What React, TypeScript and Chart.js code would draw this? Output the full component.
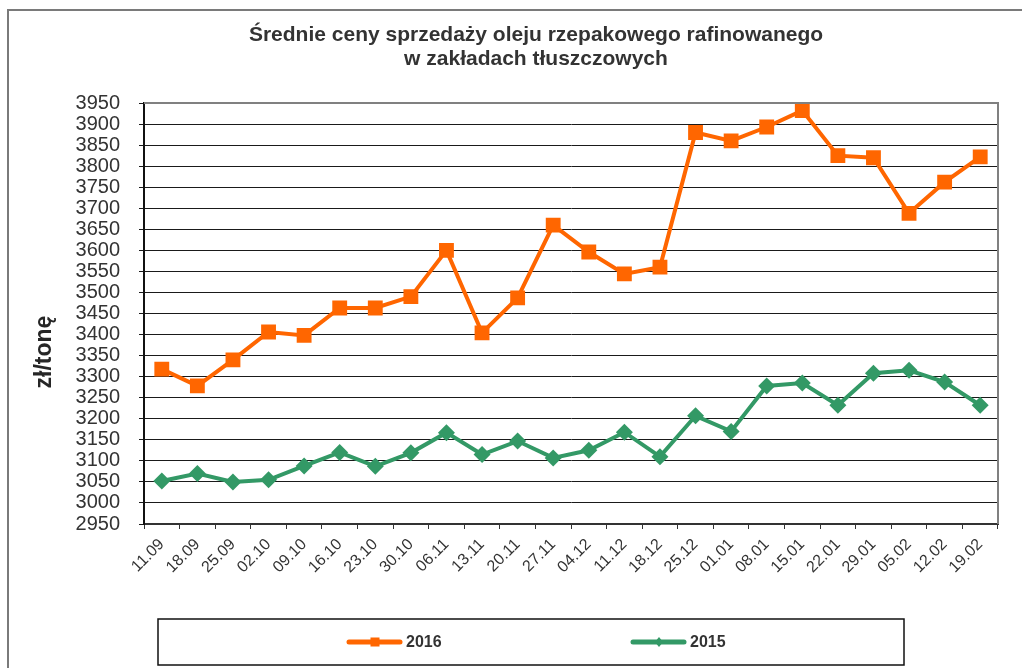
import React, { useEffect, useRef } from "react";
import { Chart, registerables } from "chart.js";

Chart.register(...registerables);

const categories = [
  "11.09", "18.09", "25.09", "02.10", "09.10", "16.10", "23.10", "30.10",
  "06.11", "13.11", "20.11", "27.11", "04.12", "11.12", "18.12", "25.12",
  "01.01", "08.01", "15.01", "22.01", "29.01", "05.02", "12.02", "19.02",
];

const series2016 = [
  3318, 3278, 3340, 3406, 3398, 3463, 3463, 3490, 3600, 3404, 3487, 3660,
  3596, 3544, 3560, 3880, 3860, 3893, 3932, 3825, 3820, 3688, 3762, 3822,
];

const series2015 = [
  3052, 3070, 3050, 3055, 3088, 3120, 3087, 3119, 3167, 3115, 3147, 3107,
  3125, 3168, 3110, 3207, 3170, 3278, 3285, 3232, 3308, 3315, 3287, 3232,
];

const yMin = 2950;
const yMax = 3950;
const yStep = 50;

const titleLines = [
  "Średnie ceny sprzedaży oleju rzepakowego rafinowanego",
  "w zakładach tłuszczowych",
];
const yAxisTitle = "zł/tonę";

const FONT = "'Liberation Sans', Arial, sans-serif";

const decorPlugin = {
  id: "decor",
  beforeDraw(chart: any) {
    const ctx = chart.ctx;
    ctx.save();
    ctx.fillStyle = "#ffffff";
    ctx.fillRect(0, 0, chart.width, chart.height);
    ctx.strokeStyle = "#7a7a7a";
    ctx.lineWidth = 2;
    ctx.beginPath();
    ctx.moveTo(8, chart.height);
    ctx.lineTo(8, 10);
    ctx.lineTo(chart.width, 10);
    ctx.stroke();
    ctx.restore();
  },
  afterDraw(chart: any) {
    const ctx = chart.ctx;
    const area = chart.chartArea;
    ctx.save();
    ctx.strokeStyle = "#808080";
    ctx.lineWidth = 2;
    ctx.beginPath();
    ctx.moveTo(area.left, area.top);
    ctx.lineTo(area.right, area.top);
    ctx.lineTo(area.right, area.bottom);
    ctx.stroke();

    // title
    ctx.fillStyle = "#333333";
    ctx.font = `bold 21px ${FONT}`;
    ctx.textAlign = "center";
    ctx.textBaseline = "middle";
    ctx.fillText(titleLines[0], 536, 35);
    ctx.fillText(titleLines[1], 536, 59);

    // y axis title
    ctx.save();
    ctx.translate(45, 352);
    ctx.rotate(-Math.PI / 2);
    ctx.font = `bold 23px ${FONT}`;
    ctx.fillStyle = "#262626";
    ctx.fillText(yAxisTitle, 0, 0);
    ctx.restore();

    // legend box
    ctx.strokeStyle = "#111111";
    ctx.lineWidth = 1.5;
    ctx.strokeRect(158, 619, 746, 46);

    const items = chart.data.datasets.map((d: any, i: number) => ({
      label: d.label,
      color: d.borderColor,
      style: d.pointStyle,
      x: i === 0 ? 347 : 631,
    }));
    const ly = 642;
    items.forEach((it: any) => {
      ctx.strokeStyle = it.color;
      ctx.lineWidth = 5;
      ctx.lineCap = "round";
      ctx.beginPath();
      ctx.moveTo(it.x + 2, ly);
      ctx.lineTo(it.x + 53, ly);
      ctx.stroke();
      ctx.fillStyle = it.color;
      const cx = it.x + 28;
      if (it.style === "rect") {
        ctx.fillRect(cx - 4.5, ly - 4.5, 9, 9);
      } else {
        ctx.beginPath();
        ctx.moveTo(cx, ly - 5);
        ctx.lineTo(cx + 4, ly);
        ctx.lineTo(cx, ly + 5);
        ctx.lineTo(cx - 4, ly);
        ctx.closePath();
        ctx.fill();
      }
      ctx.fillStyle = "#333333";
      ctx.font = `bold 16px ${FONT}`;
      ctx.textAlign = "left";
      ctx.textBaseline = "middle";
      ctx.fillText(it.label, it.x + 59, ly + 1);
    });
    ctx.restore();
  },
};

export default function App() {
  const canvasRef = useRef<HTMLCanvasElement | null>(null);

  useEffect(() => {
    if (!canvasRef.current) return;
    const chart = new Chart(canvasRef.current, {
      type: "line",
      data: {
        labels: categories,
        datasets: [
          {
            label: "2016",
            data: series2016,
            borderColor: "#FF6600",
            backgroundColor: "#FF6600",
            borderWidth: 4,
            pointStyle: "rect",
            pointRadius: 10.5,
            pointHoverRadius: 10.5,
            pointBorderWidth: 0,
            tension: 0,
          },
          {
            label: "2015",
            data: series2015,
            borderColor: "#339966",
            backgroundColor: "#339966",
            borderWidth: 4,
            pointStyle: "rectRot",
            pointRadius: 8.5,
            pointHoverRadius: 8.5,
            pointBorderWidth: 0,
            tension: 0,
          },
        ],
      },
      options: {
        animation: false,
        responsive: false,
        maintainAspectRatio: false,
        events: [],
        layout: { padding: { top: 103, right: 24, bottom: 0, left: 0 } },
        plugins: {
          legend: { display: false },
          title: { display: false },
          tooltip: { enabled: false },
        },
        scales: {
          x: {
            type: "category",
            offset: true,
            afterFit(scale: any) {
              scale.height = 144;
            },
            grid: {
              offset: true,
              drawOnChartArea: false,
              drawTicks: true,
              tickLength: 5,
              color: "#333333",
              lineWidth: 1,
            },
            border: { color: "#333333", width: 2 },
            ticks: {
              autoSkip: false,
              minRotation: 45,
              maxRotation: 45,
              padding: 6,
              color: "#333333",
              font: { family: FONT, size: 16 },
            },
          },
          y: {
            min: yMin,
            max: yMax,
            afterFit(scale: any) {
              scale.width = 144;
            },
            grid: {
              color: "#1a1a1a",
              lineWidth: 1,
              drawTicks: true,
              tickLength: 5,
            },
            border: { color: "#111111", width: 2 },
            ticks: {
              stepSize: yStep,
              autoSkip: false,
              padding: 19,
              color: "#333333",
              font: { family: FONT, size: 20 },
              callback: (v: any) => String(v),
            },
          },
        },
      },
      plugins: [decorPlugin],
    });
    return () => chart.destroy();
  }, []);

  return (
    <div style={{ position: "fixed", left: 0, top: 0, width: 1022, height: 668, background: "#fff" }}>
      <canvas ref={canvasRef} width={1022} height={668} style={{ width: 1022, height: 668, display: "block" }} />
    </div>
  );
}
